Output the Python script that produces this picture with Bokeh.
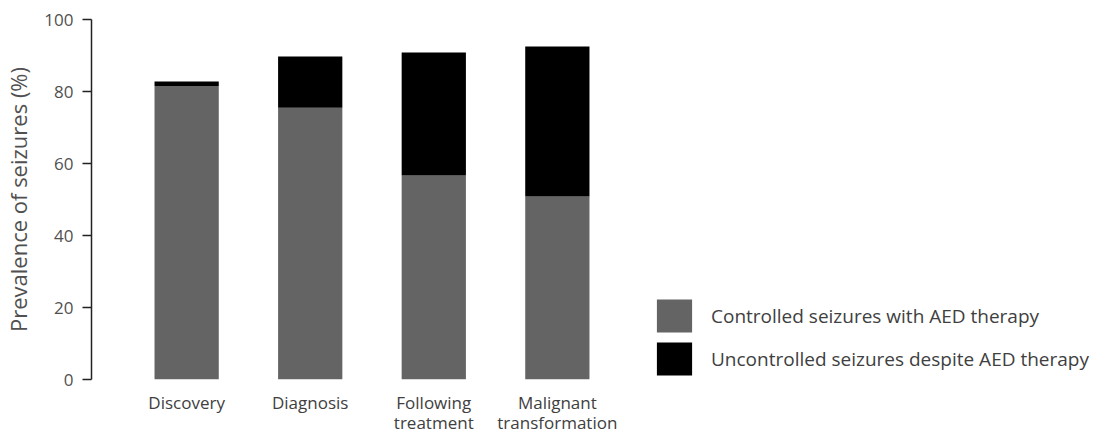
from bokeh.plotting import figure
from bokeh.models import FactorRange, Range1d, Legend, LegendItem, FixedTicker
from bokeh.embed import file_html
from bokeh.resources import INLINE

stages = ["Discovery", "Diagnosis", "Following\ntreatment", "Malignant\ntransformation"]
controlled = [81.5, 75.5, 56.7, 50.8]
uncontrolled = [1.3, 14.2, 34.1, 41.7]
series_names = ["Controlled seizures with AED therapy",
                "Uncontrolled seizures despite AED therapy"]
series_colors = ["#646464", "#000000"]
y_ticks = [0, 20, 40, 60, 80, 100]

FONT = "Open Sans"
TXT = "#505050"

p = figure(frame_width=561, frame_height=360,
           x_range=FactorRange(factors=stages, range_padding=0.27,
                               range_padding_units="absolute"),
           y_range=Range1d(0, 100),
           output_backend="svg", toolbar_location=None,
           min_border_left=91, min_border_top=19,
           min_border_bottom=53, min_border_right=0)

source = dict(stage=stages, controlled=controlled, uncontrolled=uncontrolled)
renderers = p.vbar_stack(["controlled", "uncontrolled"], x="stage", width=0.52,
                         color=series_colors, line_color=None, source=source)

legend = Legend(items=[LegendItem(label=series_names[i], renderers=[renderers[i]])
                       for i in range(2)],
                location="bottom_left", orientation="vertical",
                glyph_width=44, glyph_height=41, spacing=2,
                label_standoff=15, label_text_font=FONT,
                label_text_font_size="19px", label_text_color="#404040",
                border_line_color=None, background_fill_alpha=0,
                padding=0, margin=0, label_height=41)
p.add_layout(legend, "right")

p.xgrid.visible = False
p.ygrid.visible = False
p.outline_line_color = None

ya = p.yaxis[0]
ya.ticker = FixedTicker(ticks=y_ticks)
ya.axis_label = "Prevalence of seizures (%)"
ya.axis_label_text_font = FONT
ya.axis_label_text_font_style = "normal"
ya.axis_label_text_font_size = "22px"
ya.axis_label_text_color = TXT
ya.axis_label_standoff = 8
ya.major_label_text_font = FONT
ya.major_label_text_font_size = "17px"
ya.major_label_text_color = TXT
ya.major_label_standoff = 9
ya.axis_line_color = "#222222"
ya.axis_line_width = 1.5
ya.major_tick_line_color = "#222222"
ya.major_tick_line_width = 1.5
ya.major_tick_out = 9
ya.major_tick_in = 0
ya.minor_tick_line_color = None

xa = p.xaxis[0]
xa.axis_line_color = None
xa.major_tick_line_color = None
xa.minor_tick_line_color = None
xa.major_label_text_font = FONT
xa.major_label_text_font_size = "17px"
xa.major_label_text_line_height = 0.88
xa.major_label_text_color = "#404040"
xa.major_label_standoff = 5

open("out.html", "w").write(file_html(p, INLINE))
